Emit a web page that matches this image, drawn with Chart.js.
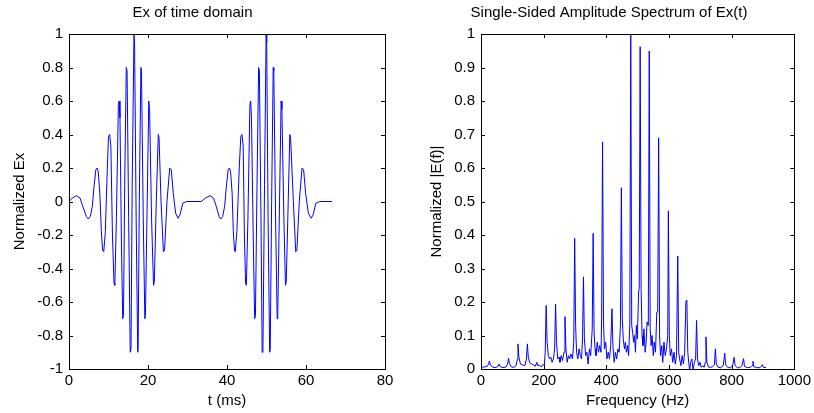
<!DOCTYPE html>
<html>
<head>
<meta charset="utf-8">
<title>Ex time domain and spectrum</title>
<script src="https://cdn.jsdelivr.net/npm/chart.js@4/dist/chart.umd.min.js"></script>
<style>
  html, body { margin: 0; padding: 0; background: #fff; }
  .wrap { position: relative; width: 814px; height: 413px; overflow: hidden; }
  #chartTime { position: absolute; left: 0; top: 0; }
  #chartSpec { position: absolute; left: 420px; top: 0; }
</style>
</head>
<body>
<div class="wrap">
  <canvas id="chartTime" width="430" height="413"></canvas>
  <canvas id="chartSpec" width="394" height="413"></canvas>
</div>
<script>
/* ===== Data: time domain ===== */
const timeMs = [
  0, 0.8, 1.9, 2.8, 3.5, 4.4, 4.9, 5.4, 5.9, 6.3, 6.8, 7.1, 7.4, 7.8, 8.2, 8.5, 8.8, 9.2,
  9.7, 10.0, 10.3, 10.6, 11.0, 11.4, 11.6, 12.0, 12.5, 12.7, 12.9, 13.3, 13.6, 13.8,
  14.1, 14.5, 14.7, 15.1, 15.5, 15.7, 16.0, 16.45, 16.6, 17.0, 17.4, 17.5, 17.8, 18.2, 18.35,
  18.8, 19.2, 19.35, 19.8, 20.2, 20.4, 20.9, 21.4, 21.6, 22.1, 22.6, 22.8, 23.3, 23.9, 24.2,
  24.8, 25.5, 25.9, 26.4, 27.0, 27.6, 28.1, 28.8, 29.8,
  33.5, 34.5, 35.7, 36.6, 37.3, 38.0, 38.4, 38.9, 39.4, 39.8, 40.3, 40.6, 40.9, 41.3, 41.6,
  41.9, 42.1, 42.5, 43.1, 43.5, 43.8, 44.1, 44.4, 44.7, 44.9, 45.3, 45.8, 46.0, 46.2, 46.7,
  47.0, 47.2, 47.6, 48.0, 48.2, 48.6, 48.9, 49.1, 49.5, 49.9, 50.05, 50.4, 50.8, 50.95, 51.3,
  51.7, 51.85, 52.3, 52.7, 52.85, 53.3, 53.7, 53.9, 54.4, 54.8, 55.0, 55.5, 55.9, 56.1, 56.8,
  57.4, 57.7, 58.3, 59.0, 59.4, 59.9, 60.6, 61.3, 61.8, 62.5, 63.5, 66.6
];
const exNorm = [
  0, 0.02, 0.035, 0.02, -0.03, -0.09, -0.105, -0.09, -0.03, 0.08, 0.19, 0.2, 0.18, 0.05, -0.18, -0.29, -0.3, -0.18,
  0.2, 0.39, 0.4, 0.33, -0.2, -0.49, -0.5, -0.1, 0.58, 0.6, 0.5, -0.3, -0.7, -0.68,
  0.1, 0.8, 0.78, -0.1, -0.9, -0.88, 0.1, 1.0, 0.95, -0.1, -0.9, -0.88, 0.0, 0.8, 0.78,
  -0.1, -0.7, -0.68, 0.0, 0.6, 0.55, -0.1, -0.5, -0.48, 0.0, 0.4, 0.38, 0.0, -0.3, -0.29,
  0.0, 0.2, 0.19, 0.05, -0.07, -0.1, -0.08, -0.01, 0.0,
  0.0, 0.02, 0.035, 0.02, -0.03, -0.09, -0.105, -0.09, -0.03, 0.08, 0.19, 0.2, 0.18, 0.05, -0.18,
  -0.29, -0.3, -0.18, 0.2, 0.39, 0.4, 0.33, -0.2, -0.49, -0.5, -0.1, 0.58, 0.6, 0.5, -0.3,
  -0.7, -0.68, 0.1, 0.8, 0.78, -0.1, -0.9, -0.88, 0.1, 1.0, 0.95, -0.1, -0.9, -0.88, 0.0,
  0.8, 0.78, -0.1, -0.7, -0.68, 0.0, 0.6, 0.55, -0.1, -0.5, -0.48, 0.0, 0.4, 0.38, 0.0,
  -0.3, -0.29, 0.0, 0.2, 0.19, 0.05, -0.07, -0.1, -0.08, -0.01, 0.0, 0.0
];

/* ===== Data: single-sided spectrum ===== */
const freqHz = [
  0, 10, 20, 24, 27, 30, 36, 45, 53, 57, 60, 70, 80, 85, 88, 91, 97, 105, 112, 116, 118, 121, 126,
  133, 140, 145, 148, 151, 156, 162, 168, 173, 176, 178, 181, 186, 192, 198, 202,
  205, 208, 211, 215, 219, 223, 227, 231, 235, 238, 241, 245, 249, 252, 256, 260, 265, 268, 271,
  275, 279, 283, 287, 292, 296, 299, 302, 305, 309, 313, 317, 321, 324, 327, 330, 334, 338, 342,
  346, 350, 355, 358, 361, 364, 367, 371, 375, 379, 383, 385, 388, 391, 394, 398, 402, 406, 410,
  414, 418, 421, 425, 429, 433, 437, 441, 445, 448, 451, 454, 458, 461, 464, 468, 471, 475, 478,
  481, 484, 487, 490, 493, 496, 499, 503, 505, 508, 511, 514, 517, 520, 524, 527, 530, 534, 537,
  540, 543, 546, 550, 553, 557, 561, 564, 567, 570, 573, 577, 580, 584, 588, 592, 596, 598, 601,
  604, 608, 612, 616, 620, 624, 628, 631, 634, 638, 642, 646, 650, 654, 657, 660, 663, 666, 669,
  673, 677, 681, 685, 688, 691, 695, 699, 703, 708, 712, 716, 718, 721, 726, 732, 738, 745, 748,
  751, 757, 765, 773, 778, 781, 788, 796, 803, 808, 811, 818, 826, 833, 838, 841, 850, 860, 865,
  868, 871, 880, 890, 895, 898, 901, 910
];
const ampNorm = [
  0.005, 0.006, 0.008, 0.015, 0.024, 0.012, 0.006, 0.004, 0.007, 0.015, 0.008, 0.004, 0.006, 0.015, 0.032, 0.016, 0.006, 0.005, 0.01, 0.03, 0.075, 0.035, 0.015,
  0.012, 0.01, 0.03, 0.075, 0.035, 0.018, 0.015, 0.012, 0.008, 0.015, 0.02, 0.01, 0.012, 0.006, 0.014, 0.01,
  0.05, 0.19, 0.08, 0.04, 0.03, 0.035, 0.02, 0.03, 0.06, 0.194, 0.08, 0.03, 0.035, 0.02, 0.04, 0.025, 0.05, 0.156, 0.06,
  0.02, 0.04, 0.03, 0.045, 0.03, 0.08, 0.39, 0.13, 0.05, 0.03, 0.06, 0.04, 0.03, 0.09, 0.275, 0.09, 0.04, 0.05, 0.015,
  0.06, 0.04, 0.12, 0.405, 0.11, 0.06, 0.04, 0.08, 0.05, 0.07, 0.05, 0.15, 0.678, 0.14, 0.06, 0.08, 0.03, 0.05, 0.03,
  0.07, 0.18, 0.07, 0.02, 0.05, 0.03, 0.06, 0.05, 0.13, 0.541, 0.15, 0.09, 0.06, 0.08, 0.05, 0.07, 0.04, 0.13, 1.0,
  0.13, 0.11, 0.08, 0.1, 0.05, 0.13, 0.09, 0.23, 0.24, 0.962, 0.24, 0.1, 0.07, 0.12, 0.05, 0.08, 0.14, 0.13, 0.949,
  0.12, 0.07, 0.1, 0.04, 0.08, 0.05, 0.17, 0.17, 0.69, 0.1, 0.04, 0.07, 0.02, 0.08, 0.04, 0.06, 0.1, 0.472, 0.1,
  0.04, 0.06, 0.02, 0.05, 0.015, 0.04, 0.337, 0.05, 0.03, 0.01, 0.04, 0.015, 0.05, 0.2, 0.206, 0.05, 0.02, -0.005, 0.02,
  0.03, -0.005, 0.02, 0.03, 0.145, 0.03, 0.01, 0.02, 0.005, 0.01, 0.005, 0.02, 0.096, 0.02, 0.006, 0.005, 0.006, 0.012, 0.06,
  0.015, 0.005, 0.004, 0.01, 0.047, 0.012, 0.004, 0.004, 0.01, 0.035, 0.01, 0.004, 0.004, 0.01, 0.031, 0.008, 0.004, 0.005, 0.01,
  0.023, 0.007, 0.004, 0.004, 0.008, 0.013, 0.005, 0.004
];

/* ===== Axis ticks ===== */
const timeTicks = [0, 20, 40, 60, 80];
const exTicks   = [-1, -0.8, -0.6, -0.4, -0.2, 0, 0.2, 0.4, 0.6, 0.8, 1];
const freqTicks = [0, 200, 400, 600, 800, 1000];
const ampTicks  = [0, 0.1, 0.2, 0.3, 0.4, 0.5, 0.6, 0.7, 0.8, 0.9, 1];

Chart.defaults.font.family = '"Liberation Sans", Arial, sans-serif';
Chart.defaults.font.size = 15;
Chart.defaults.color = '#000';

const toPoints = (xs, ys) => xs.map((x, i) => ({ x, y: ys[i] }));
// MATLAB style labels: 1, 0.8, 1000 (no trailing zeros, no thousands separator)
const plainLabel = v => String(Math.round(v * 1000) / 1000);

// MATLAB-like box with inward ticks on all four sides
const boxTicks = {
  id: 'boxTicks',
  afterDatasetsDraw(chart) {
    const { ctx, chartArea: a, scales } = chart;
    const len = 4;
    ctx.save();
    ctx.strokeStyle = '#000';
    ctx.lineWidth = 1;
    ctx.beginPath();
    scales.x.ticks.forEach(t => {
      const px = Math.round(scales.x.getPixelForValue(t.value)) + 0.5;
      ctx.moveTo(px, a.bottom); ctx.lineTo(px, a.bottom - len);
      ctx.moveTo(px, a.top);    ctx.lineTo(px, a.top + len);
    });
    scales.y.ticks.forEach(t => {
      const py = Math.round(scales.y.getPixelForValue(t.value)) + 0.5;
      ctx.moveTo(a.left, py);  ctx.lineTo(a.left + len, py);
      ctx.moveTo(a.right, py); ctx.lineTo(a.right - len, py);
    });
    ctx.stroke();
    ctx.strokeRect(Math.round(a.left) + 0.5, Math.round(a.top) + 0.5,
      Math.round(a.right - a.left), Math.round(a.bottom - a.top));
    ctx.restore();
  }
};

function makeChart(canvasId, cfg) {
  return new Chart(document.getElementById(canvasId), {
    type: 'line',
    data: {
      datasets: [{
        data: toPoints(cfg.xs, cfg.ys),
        borderColor: '#0000ff',
        borderWidth: 1,
        pointRadius: 0,
        tension: 0,
        fill: false,
      }],
    },
    options: {
      responsive: false,
      animation: false,
      devicePixelRatio: 1,
      layout: { padding: { left: 0, right: cfg.padRight, top: 0, bottom: 0 } },
      plugins: {
        legend: { display: false },
        tooltip: { enabled: false },
        title: {
          display: true,
          text: cfg.title,
          font: { size: 15, weight: 'normal' },
          padding: { top: 4, bottom: 12 },
        },
      },
      scales: {
        x: {
          type: 'linear',
          min: cfg.xTicks[0],
          max: cfg.xTicks[cfg.xTicks.length - 1],
          grid: { display: false, drawTicks: false },
          border: { display: false },
          ticks: { stepSize: cfg.xTicks[1] - cfg.xTicks[0], padding: 3, maxRotation: 0, callback: plainLabel },
          title: { display: true, text: cfg.xLabel, padding: { top: 0, bottom: 3 } },
          afterFit: s => { s.height = 44; },
        },
        y: {
          type: 'linear',
          min: cfg.yTicks[0],
          max: cfg.yTicks[cfg.yTicks.length - 1],
          grid: { display: false, drawTicks: false },
          border: { display: false },
          ticks: { stepSize: cfg.yTicks[1] - cfg.yTicks[0], padding: 6, callback: plainLabel },
          title: { display: true, text: cfg.yLabel, padding: { top: cfg.yTitlePad, bottom: 0 } },
          afterFit: s => { s.width = cfg.yWidth; },
        },
      },
    },
    plugins: [boxTicks],
  });
}

makeChart('chartTime', {
  xs: timeMs, ys: exNorm,
  xTicks: timeTicks, yTicks: exTicks,
  title: 'Ex of time domain',
  xLabel: 't (ms)', yLabel: 'Normalized Ex',
  yWidth: 69, yTitlePad: 11, padRight: 45,
});

makeChart('chartSpec', {
  xs: freqHz, ys: ampNorm,
  xTicks: freqTicks, yTicks: ampTicks,
  title: 'Single-Sided Amplitude Spectrum of Ex(t)',
  xLabel: 'Frequency (Hz)', yLabel: 'Normalized |E(f)|',
  yWidth: 61, yTitlePad: 8, padRight: 16,
});
</script>
</body>
</html>
